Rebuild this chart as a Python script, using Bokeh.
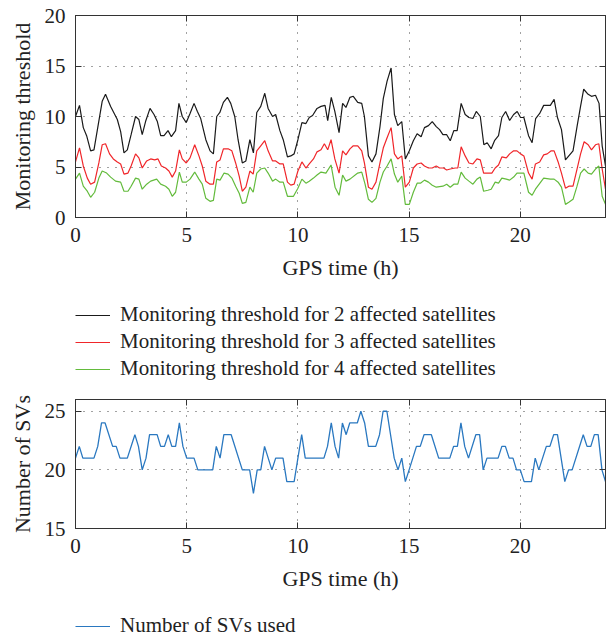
from bokeh.plotting import figure
from bokeh.models import Range1d, LinearAxis, Legend, LegendItem, FixedTicker
from bokeh.layouts import column
from bokeh.embed import file_html
from bokeh.resources import INLINE

FONT = "Liberation Serif"

# ---------------- data ----------------
x_ticks = [0, 5, 10, 15, 20]
thr_y_ticks = [0, 5, 10, 15, 20]
sv_y_ticks = [15, 20, 25]

t_2sat = [0.0, 0.18, 0.35, 0.5, 0.68, 0.83, 1.0, 1.2, 1.35, 1.58,
          1.88, 2.03, 2.18, 2.33, 2.5, 2.7, 2.85, 3.0, 3.15, 3.35,
          3.53, 3.68, 3.83, 3.98, 4.16, 4.31, 4.5, 4.65, 4.8, 4.98,
          5.15, 5.33, 5.48, 5.63, 5.86, 6.05, 6.2, 6.35, 6.49, 6.65,
          6.83, 6.98, 7.16, 7.31, 7.5, 7.66, 7.84, 8.0, 8.15, 8.33,
          8.51, 8.66, 8.86, 9.0, 9.19, 9.34, 9.53, 9.68, 9.83, 10.0,
          10.18, 10.36, 10.51, 10.66, 10.86, 11.04, 11.22, 11.34, 11.5, 11.66,
          11.85, 12.01, 12.16, 12.34, 12.49, 12.69, 12.87, 12.99, 13.17, 13.33,
          13.51, 13.69, 13.84, 14.01, 14.19, 14.34, 14.49, 14.67, 14.83, 15.01,
          15.19, 15.36, 15.54, 15.69, 15.87, 16.04, 16.22, 16.37, 16.52, 16.69,
          16.85, 17.01, 17.16, 17.34, 17.52, 17.69, 17.87, 18.02, 18.2, 18.36,
          18.51, 18.69, 18.84, 19.02, 19.17, 19.34, 19.52, 19.7, 19.86, 20.01,
          20.16, 20.37, 20.53, 20.69, 20.87, 21.05, 21.35, 21.52, 21.67, 21.85,
          22.03, 22.18, 22.37, 22.55, 22.7, 22.85, 23.05, 23.2, 23.38, 23.54,
          23.68, 23.83]
thr_2sat = [10.0, 11.1, 8.9, 8.1, 6.6, 6.7, 8.9, 11.5, 12.2, 11.0,
            9.7, 8.5, 6.4, 6.7, 8.2, 10.0, 9.7, 8.2, 9.5, 10.8,
            10.2, 9.5, 8.1, 8.1, 8.6, 8.0, 8.6, 11.3, 10.0, 9.4,
            10.3, 11.3, 10.5, 9.8, 7.7, 6.6, 6.3, 10.0, 10.4, 11.4,
            11.9, 11.3, 10.0, 7.7, 5.4, 5.6, 7.7, 6.4, 10.4, 11.0,
            12.3, 10.8, 10.0, 10.2, 8.6, 7.7, 6.0, 6.1, 6.3, 7.7,
            9.4, 9.3, 9.9, 10.1, 10.8, 11.0, 11.1, 9.6, 11.9, 10.5,
            8.4, 11.3, 10.9, 11.9, 12.0, 11.4, 11.3, 10.0, 6.1, 5.5,
            6.3, 9.0, 11.8, 13.5, 14.8, 10.2, 9.1, 9.5, 5.8, 6.6,
            7.6, 8.3, 8.0, 8.9, 9.1, 9.5, 9.0, 8.7, 8.2, 8.2,
            7.6, 8.6, 8.6, 11.3, 10.2, 9.9, 9.8, 10.5, 10.0, 7.2,
            7.4, 6.8, 7.6, 8.1, 9.9, 10.5, 9.6, 10.2, 10.5, 9.9,
            9.9, 8.1, 7.4, 9.8, 10.3, 11.1, 11.1, 11.7, 9.9, 8.7,
            5.7, 6.1, 6.6, 9.0, 10.9, 12.7, 12.2, 12.0, 12.1, 11.3,
            7.1, 5.1]

t_3sat = [0.0, 0.18, 0.35, 0.53, 0.68, 0.86, 1.05, 1.2, 1.35, 1.53,
          1.7, 1.88, 2.03, 2.18, 2.36, 2.5, 2.7, 2.85, 3.0, 3.2,
          3.38, 3.56, 3.71, 3.86, 4.05, 4.2, 4.35, 4.5, 4.67, 4.8,
          4.98, 5.15, 5.36, 5.55, 5.7, 5.86, 6.05, 6.2, 6.35, 6.5,
          6.65, 6.86, 7.03, 7.2, 7.36, 7.5, 7.66, 7.84, 7.99, 8.15,
          8.33, 8.51, 8.66, 8.86, 9.0, 9.19, 9.34, 9.53, 9.68, 9.83,
          10.0, 10.18, 10.36, 10.51, 10.7, 10.86, 11.04, 11.19, 11.34, 11.49,
          11.66, 11.85, 12.01, 12.16, 12.34, 12.49, 12.69, 12.87, 12.99, 13.17,
          13.33, 13.51, 13.69, 13.84, 14.01, 14.19, 14.34, 14.49, 14.67, 14.83,
          15.01, 15.19, 15.36, 15.54, 15.69, 15.87, 16.04, 16.22, 16.37, 16.55,
          16.69, 16.85, 17.07, 17.19, 17.34, 17.52, 17.69, 17.87, 18.05, 18.2,
          18.35, 18.54, 18.72, 18.87, 19.02, 19.17, 19.37, 19.52, 19.7, 19.85,
          20.01, 20.16, 20.37, 20.53, 20.68, 20.87, 21.05, 21.21, 21.39, 21.52,
          21.7, 21.85, 22.03, 22.18, 22.37, 22.55, 22.71, 22.87, 23.05, 23.2,
          23.38, 23.53, 23.68, 23.83]
thr_3sat = [5.5, 6.9, 5.1, 3.9, 3.3, 3.5, 5.4, 7.2, 7.3, 6.3,
            5.8, 5.5, 5.3, 4.3, 4.4, 5.1, 6.3, 5.9, 4.9, 5.6,
            5.8, 5.7, 5.8, 5.1, 4.9, 4.6, 4.0, 4.6, 6.7, 5.8,
            5.4, 5.9, 7.2, 6.1, 5.1, 3.6, 3.3, 3.3, 5.5, 5.7,
            6.8, 6.8, 6.6, 5.4, 4.1, 2.6, 3.0, 4.6, 4.3, 6.6,
            7.1, 7.6, 6.6, 5.6, 5.6, 5.3, 5.3, 3.5, 3.2, 3.3,
            4.6, 5.5, 4.9, 5.3, 5.8, 6.5, 6.7, 7.3, 6.7, 7.7,
            5.8, 4.4, 6.6, 6.2, 6.8, 7.1, 7.1, 6.6, 5.4, 3.0,
            2.8, 3.5, 5.4, 6.9, 7.9, 8.9, 6.3, 5.8, 6.1, 3.0,
            3.5, 4.9, 5.3, 5.4, 5.1, 4.9, 4.9, 5.1, 4.9, 4.9,
            4.7, 4.8, 4.9, 4.9, 7.0, 6.1, 5.4, 5.3, 5.8, 5.7,
            4.4, 4.4, 4.4, 4.9, 5.2, 6.0, 5.9, 6.3, 6.6, 6.6,
            6.3, 6.1, 4.4, 3.8, 5.3, 5.5, 6.2, 6.3, 6.6, 6.6,
            5.5, 4.4, 2.9, 3.1, 3.1, 4.8, 6.3, 7.5, 7.2, 6.7,
            7.2, 7.3, 4.8, 2.8]

t_4sat = [0.0, 0.18, 0.35, 0.53, 0.68, 0.86, 1.05, 1.2, 1.4, 1.58,
          1.8, 2.03, 2.18, 2.36, 2.5, 2.7, 2.85, 3.0, 3.2, 3.38,
          3.65, 3.83, 4.05, 4.2, 4.35, 4.5, 4.67, 4.8, 4.98, 5.15,
          5.36, 5.55, 5.7, 5.86, 6.05, 6.2, 6.35, 6.5, 6.68, 6.86,
          7.03, 7.2, 7.36, 7.5, 7.66, 7.84, 7.99, 8.15, 8.33, 8.51,
          8.66, 8.86, 9.0, 9.19, 9.34, 9.53, 9.8, 10.0, 10.18, 10.36,
          10.51, 10.7, 10.86, 11.04, 11.26, 11.49, 11.67, 11.85, 12.01, 12.16,
          12.34, 12.69, 12.87, 13.02, 13.17, 13.33, 13.51, 13.69, 13.84, 14.01,
          14.19, 14.34, 14.49, 14.67, 14.83, 15.01, 15.19, 15.36, 15.51, 15.69,
          15.87, 16.04, 16.22, 16.52, 16.69, 16.85, 17.01, 17.19, 17.34, 17.52,
          17.69, 17.87, 18.05, 18.2, 18.35, 18.54, 18.69, 18.87, 19.02, 19.17,
          19.37, 19.52, 19.7, 19.85, 20.01, 20.16, 20.37, 20.53, 20.68, 21.05,
          21.35, 21.52, 21.7, 21.85, 22.03, 22.18, 22.37, 22.55, 22.71, 22.87,
          23.05, 23.2, 23.38, 23.53, 23.68, 23.83]
thr_4sat = [3.8, 4.4, 3.1, 2.6, 2.0, 2.5, 3.9, 4.6, 4.4, 4.0,
            3.6, 3.5, 2.6, 2.6, 3.1, 3.9, 3.8, 2.8, 3.3, 3.6,
            3.8, 3.3, 3.1, 2.8, 2.1, 2.5, 4.5, 3.5, 3.5, 3.8,
            4.5, 3.8, 3.3, 1.9, 1.6, 1.7, 3.8, 3.7, 4.4, 4.3,
            3.9, 3.1, 2.4, 1.4, 1.5, 3.0, 2.5, 4.4, 4.8, 4.9,
            4.4, 3.6, 3.8, 3.5, 3.5, 2.1, 2.1, 2.9, 3.8, 3.4,
            3.6, 3.9, 4.2, 4.5, 4.4, 5.2, 3.0, 2.2, 4.2, 3.6,
            3.8, 4.4, 4.5, 3.3, 1.8, 1.5, 1.9, 3.5, 4.5, 5.1,
            5.8, 4.3, 3.5, 4.1, 1.3, 1.3, 2.5, 3.4, 3.4, 3.7,
            3.5, 3.2, 3.0, 3.1, 3.3, 3.0, 3.3, 3.3, 4.5, 3.9,
            3.6, 3.3, 3.8, 4.0, 2.6, 2.7, 2.8, 3.5, 3.4, 3.9,
            3.8, 3.7, 4.0, 4.4, 4.4, 4.4, 2.5, 2.2, 2.8, 3.9,
            3.8, 3.8, 3.5, 3.0, 1.3, 1.5, 1.8, 3.1, 4.4, 4.8,
            4.4, 4.3, 4.8, 5.1, 2.1, 1.3]

t_sv = [0.0, 0.17, 0.33, 0.83, 1.0, 1.17, 1.33, 1.67, 1.83, 2.0,
        2.33, 2.67, 2.83, 3.0, 3.17, 3.33, 3.67, 3.83, 4.0, 4.17,
        4.33, 4.5, 4.67, 4.83, 5.0, 5.33, 5.5, 6.17, 6.33, 6.5,
        6.67, 7.0, 7.5, 7.83, 8.0, 8.17, 8.33, 8.5, 8.83, 9.0,
        9.33, 9.5, 9.83, 10.17, 10.33, 11.17, 11.33, 11.5, 11.67, 11.83,
        12.0, 12.17, 12.33, 12.67, 12.83, 13.0, 13.17, 13.5, 13.67, 13.83,
        14.0, 14.33, 14.5, 14.67, 14.83, 15.0, 15.33, 15.5, 15.67, 16.0,
        16.33, 16.83, 17.0, 17.17, 17.33, 17.5, 17.67, 18.0, 18.17, 18.33,
        18.5, 19.0, 19.17, 19.33, 19.5, 19.67, 19.83, 20.0, 20.17, 20.5,
        20.67, 20.83, 21.17, 21.33, 21.5, 21.67, 22.0, 22.17, 22.33, 22.83,
        23.0, 23.17, 23.33, 23.5, 23.67, 23.83]
n_sv = [21, 22, 21, 21, 22, 24, 24, 22, 22, 21,
        21, 23, 22, 20, 21, 23, 23, 22, 22, 23,
        22, 22, 24, 22, 21, 21, 20, 20, 22, 21,
        23, 23, 20, 20, 18, 20, 20, 22, 20, 21,
        21, 19, 19, 23, 21, 21, 22, 24, 22, 21,
        24, 23, 24, 24, 25, 24, 22, 22, 23, 25,
        25, 21, 20, 21, 19, 20, 22, 22, 23, 23,
        21, 21, 22, 22, 24, 22, 21, 23, 23, 20,
        21, 21, 22, 22, 21, 21, 20, 20, 19, 19,
        21, 20, 22, 22, 23, 23, 19, 20, 20, 23,
        22, 22, 23, 23, 20, 19]

labels_top = ["Monitoring threshold for 2 affected satellites",
              "Monitoring threshold for 3 affected satellites",
              "Monitoring threshold for 4 affected satellites"]
label_bottom = "Number of SVs used"

C_BLACK = "#1a1a1a"
C_RED = "#f0262a"
C_GREEN = "#63bb3c"
C_BLUE = "#2a78c0"
AX = "#333333"
TXT = "#222222"
FS_TICK = "21px"
FS = "22px"
FS_LEG = "21px"
LW = 1.2


def style(p, yticks, ylabel):
    xt = FixedTicker(ticks=x_ticks)
    yt = FixedTicker(ticks=yticks)
    # box ticks on the right and top (minor ticks only, so no labels)
    p.add_layout(LinearAxis(ticker=FixedTicker(ticks=[], minor_ticks=yticks)), "right")
    p.add_layout(LinearAxis(ticker=FixedTicker(ticks=[], minor_ticks=x_ticks)), "above")
    for ax in (p.right[0], p.above[0]):
        ax.minor_tick_in = 6
        ax.minor_tick_out = 0
        ax.minor_tick_line_color = AX
        ax.axis_line_color = AX
        ax.major_label_standoff = 0
    for ax in (p.below[0], p.left[0]):
        ax.major_tick_in = 6
        ax.major_tick_out = 0
        ax.minor_tick_line_color = None
        ax.axis_line_color = AX
        ax.major_tick_line_color = AX
        ax.major_label_text_font = FONT
        ax.major_label_text_font_size = FS_TICK
        ax.major_label_text_color = TXT
        ax.axis_label_text_font = FONT
        ax.axis_label_text_font_size = FS
        ax.axis_label_text_font_style = "normal"
        ax.axis_label_text_color = TXT
    p.below[0].ticker = xt
    p.left[0].ticker = yt
    p.below[0].axis_label = "GPS time (h)"
    p.below[0].major_label_standoff = 10
    p.below[0].axis_label_standoff = 10
    p.left[0].axis_label = ylabel
    p.left[0].major_label_standoff = 10
    p.left[0].axis_label_standoff = 7
    p.xgrid.ticker = xt
    p.ygrid.ticker = yt
    for g in (p.xgrid, p.ygrid):
        g.grid_line_color = "#444444"
        g.grid_line_dash = "1 7"
        g.grid_line_width = 1
    p.outline_line_color = AX


def legend_figure(height, series, labels, colors, y_offset):
    f = figure(width=608, height=height, x_range=Range1d(0, 1), y_range=Range1d(0, 1),
               output_backend="svg", toolbar_location=None,
               x_axis_location=None, y_axis_location=None,
               min_border_left=75, min_border_right=0, min_border_top=0, min_border_bottom=0)
    f.outline_line_color = None
    f.xgrid.visible = False
    f.ygrid.visible = False
    items = []
    for (tx, vy), lab, col in zip(series, labels, colors):
        key = f.line(tx, vy, line_color=col, line_width=LW, visible=False)
        items.append(LegendItem(label=lab, renderers=[key]))
    f.add_layout(Legend(items=items, location=(0, y_offset), padding=0, margin=0, spacing=2,
                        glyph_width=35, glyph_height=20, label_height=24, label_standoff=10,
                        label_text_font=FONT, label_text_font_size=FS_LEG, label_text_color=TXT,
                        inactive_fill_alpha=0, border_line_alpha=0, background_fill_alpha=0))
    return f


p1 = figure(width=608, height=290, x_range=Range1d(0, 23.83), y_range=Range1d(0, 20),
            output_backend="svg", toolbar_location=None,
            min_border_left=75, min_border_right=3, min_border_top=15, min_border_bottom=73)
style(p1, thr_y_ticks, "Monitoring threshold")
p1.line(t_2sat, thr_2sat, line_color=C_BLACK, line_width=LW)
p1.line(t_3sat, thr_3sat, line_color=C_RED, line_width=LW)
p1.line(t_4sat, thr_4sat, line_color=C_GREEN, line_width=LW)

leg1 = legend_figure(95, [(t_2sat, thr_2sat), (t_3sat, thr_3sat), (t_4sat, thr_4sat)],
                     labels_top, [C_BLACK, C_RED, C_GREEN], 4)

p2 = figure(width=608, height=211, x_range=Range1d(0, 23.83), y_range=Range1d(15, 26),
            output_backend="svg", toolbar_location=None,
            min_border_left=75, min_border_right=3, min_border_top=14, min_border_bottom=68)
style(p2, sv_y_ticks, "Number of SVs")
p2.line(t_sv, n_sv, line_color=C_BLUE, line_width=LW + 0.1)

leg2 = legend_figure(43, [(t_sv, n_sv)], [label_bottom], [C_BLUE], 1)

layout = column(p1, leg1, p2, leg2, spacing=0)
open("out.html", "w").write(file_html(layout, INLINE))
